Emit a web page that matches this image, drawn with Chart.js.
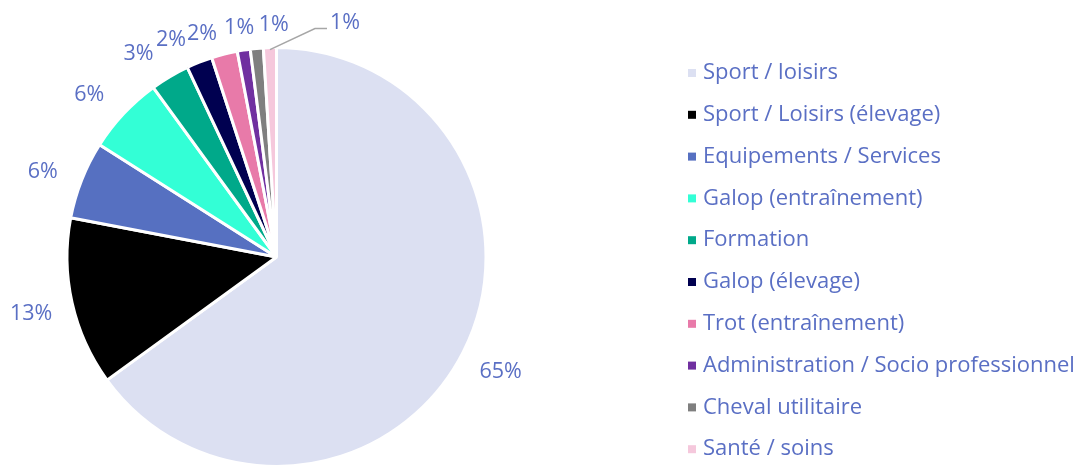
<!DOCTYPE html>
<html><head><meta charset="utf-8">
<script src="https://cdn.jsdelivr.net/npm/chart.js@4/dist/chart.umd.min.js"></script>
<style>html,body{margin:0;padding:0;background:#fff;}#wrap{width:1083px;height:468px;position:relative;}</style>
</head><body><div id="wrap"><canvas id="c" width="1083" height="468"></canvas></div>
<script>
const categories = ["Sport / loisirs","Sport / Loisirs (élevage)","Equipements / Services","Galop (entraînement)","Formation","Galop (élevage)","Trot (entraînement)","Administration / Socio professionnel","Cheval utilitaire","Santé / soins"];
const values = [65,13,6,6,3,2,2,1,1,1];
const valueLabels = ["65%","13%","6%","6%","3%","2%","2%","1%","1%","1%"];
const colors = ["#dce0f2","#000000","#5670c1","#33ffd6","#00a98a","#000050","#e87aa9","#7030a0","#7f7f7f","#f5c8dc"];

const FONT = "'Open Sans', sans-serif";
const TEXT = "#5a6fc4";
const labelShift = [[0,1],[0,2],[0,7],[-4,10],[-10,13],[-13,17],[-12,20],[2,19],[21,18],[0,0]];

const labelPlugin = {
  id:'outLabels',
  afterDatasetsDraw(chart){
    const ctx = chart.ctx; const meta = chart.getDatasetMeta(0);
    ctx.save();
    ctx.font = "21.5px " + FONT; ctx.fillStyle = TEXT; ctx.textAlign='center'; ctx.textBaseline='middle';
    meta.data.forEach((arc,i)=>{
      const mid = (arc.startAngle+arc.endAngle)/2;
      const R = arc.outerRadius + 42;
      let x = arc.x + Math.cos(mid)*R + labelShift[i][0];
      let y = arc.y + Math.sin(mid)*R + labelShift[i][1];
      if(i===values.length-1){
        const x0 = arc.x + Math.cos(mid)*(arc.outerRadius-2);
        const y0 = arc.y + Math.sin(mid)*(arc.outerRadius-2);
        const x1 = x0+45, y1 = y0-21;
        ctx.strokeStyle = "#a6a6a6"; ctx.lineWidth=1.5;
        ctx.beginPath(); ctx.moveTo(x0,y0); ctx.lineTo(x1,y1); ctx.lineTo(x1+12,y1); ctx.stroke();
        ctx.textAlign='left';
        ctx.fillText(valueLabels[i], x1+15, y1-6);
        ctx.textAlign='center';
      } else {
        ctx.fillText(valueLabels[i], x, y);
      }
    });
    ctx.textAlign='left';
    ctx.font = "22px " + FONT;
    categories.forEach((c,i)=>{
      const y = 73 + i*41.8;
      ctx.fillStyle = colors[i];
      ctx.fillRect(688, y-4, 8, 8);
      ctx.fillStyle = TEXT;
      ctx.fillText(c, 703, y);
    });
    ctx.restore();
  }
};

new Chart(document.getElementById('c'),{
  type:'pie',
  data:{labels:categories,datasets:[{data:values,backgroundColor:colors,borderColor:'#ffffff',borderWidth:3,hoverOffset:0}]},
  options:{
    responsive:false, animation:false,
    layout:{padding:{left:63,right:593,top:46,bottom:-5}},
    plugins:{legend:{display:false},tooltip:{enabled:false}}
  },
  plugins:[labelPlugin]
});
</script></body></html>
